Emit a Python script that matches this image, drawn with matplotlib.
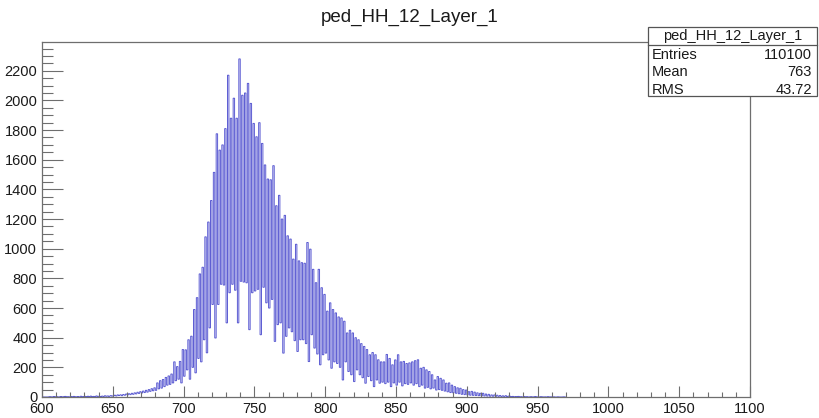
import numpy as np
import matplotlib.pyplot as plt
from matplotlib.patches import Rectangle
from matplotlib.lines import Line2D
from matplotlib.ticker import MultipleLocator

plt.rcParams['font.family'] = ['Liberation Sans', 'DejaVu Sans']

title = "ped_HH_12_Layer_1"
x_lo, x_hi = 600, 1100

# bin contents, 1 ADC count per bin, starting at 600
counts = [
    0, 0, 0, 0, 0, 2, 1, 0, 3, 1,                                  # 600
    2, 0, 1, 3, 0, 2, 4, 1, 2, 0,                                  # 610
    3, 1, 4, 2, 1, 3, 0, 5, 2, 3,                                  # 620
    4, 2, 5, 3, 6, 2, 4, 3, 7, 4,                                  # 630
    5, 3, 6, 4, 8, 5, 7, 4, 9, 6,                                  # 640
    8, 12, 7, 14, 10, 15, 9, 17, 12, 20,                           # 650
    14, 22, 16, 25, 18, 28, 21, 32, 24, 36,                        # 660
    27, 40, 30, 45, 33, 50, 38, 56, 42, 62,                        # 670
    45, 95, 55, 110, 60, 118, 70, 132, 80, 142,                    # 680
    85, 155, 95, 237, 110, 205, 120, 240, 95, 320,                 # 690
    140, 318, 183, 386, 120, 410, 200, 590, 163, 670,              # 700
    260, 830, 237, 875, 386, 1080, 298, 1180, 466, 1325,           # 710
    624, 1515, 398, 1775, 624, 1665, 760, 1700, 755, 1810,         # 720
    500, 2170, 703, 1880, 760, 2015, 720, 1880, 500, 2280,         # 730
    780, 2035, 775, 2050, 770, 2115, 454, 1980, 703, 1845,         # 740
    715, 1755, 726, 1850, 420, 1710, 740, 1565, 635, 1470,         # 750
    600, 1465, 658, 1560, 375, 1290, 488, 1360, 500, 1200,         # 760
    296, 1225, 409, 1087, 466, 1065, 440, 930, 380, 1030,          # 770
    307, 918, 386, 906, 386, 902, 360, 1042, 239, 997,             # 780
    420, 861, 330, 771, 290, 861, 217, 737, 285, 692,              # 790
    296, 579, 250, 635, 194, 590, 237, 567, 226, 540,              # 800
    200, 533, 115, 511, 237, 432, 172, 450, 150, 432,              # 810
    104, 400, 183, 386, 150, 360, 130, 341, 93, 320,               # 820
    138, 285, 110, 300, 70, 285, 115, 251, 93, 237,                # 830
    100, 237, 90, 287, 100, 260, 70, 217, 95, 250,                 # 840
    80, 285, 100, 237, 75, 240, 90, 226, 85, 230,                  # 850
    95, 237, 80, 245, 90, 251, 70, 194, 80, 200,                   # 860
    60, 183, 65, 172, 55, 150, 60, 115, 47, 138,                   # 870
    50, 126, 45, 115, 40, 93, 35, 95, 30, 80,                      # 880
    28, 70, 25, 62, 22, 59, 18, 50, 16, 47,                        # 890
    14, 36, 12, 38, 11, 33, 10, 28, 9, 25,                         # 900
    8, 25, 7, 20, 6, 18, 5, 14, 5, 14,                             # 910
    4, 12, 4, 10, 3, 8, 3, 9, 2, 6,                                # 920
    5, 2, 4, 1, 3, 2, 4, 1, 2, 0,                                  # 930
    3, 1, 2, 0, 1, 2, 0, 1, 3, 0,                                  # 940
    1, 0, 2, 1, 0, 1, 0, 2, 0, 1,                                  # 950
    0, 1, 0, 0, 1, 0, 0, 0, 1, 0,                                  # 960
]
edges = np.arange(x_lo, x_lo + len(counts) + 1)

stat_names = ["Entries", "Mean", "RMS"]
stat_values = ["110100", "763", "43.72"]

W, H = 820, 418
fig = plt.figure(figsize=(W / 100, H / 100), dpi=100)
ax = fig.add_axes([42 / W, 21 / H, 708 / W, 355 / H])

ax.stairs(counts, edges, color='#5a5ad2', linewidth=0.7, snap=False)

ax.set_xlim(x_lo, x_hi)
ax.set_ylim(0, max(counts) * 1.05)

ax.xaxis.set_major_locator(MultipleLocator(50))
ax.xaxis.set_minor_locator(MultipleLocator(10))
ax.yaxis.set_major_locator(MultipleLocator(200))
ax.yaxis.set_minor_locator(MultipleLocator(50))

frame_col = '#6e6e6e'
for s in ax.spines.values():
    s.set_color(frame_col)
    s.set_linewidth(0.9)
ax.tick_params(axis='both', which='both', direction='in', color=frame_col,
               width=0.8, labelsize=10.5, labelcolor='#1a1a1a',
               top=False, right=False)
ax.tick_params(axis='x', which='major', length=7.6, pad=3.5)
ax.tick_params(axis='x', which='minor', length=3.8)
ax.tick_params(axis='y', which='major', length=15.3, pad=3.5)
ax.tick_params(axis='y', which='minor', length=7.6)

fig.text(0.5, 1 - 17 / H, title, ha='center', va='center', fontsize=13.5,
         color='#1a1a1a')

# stats box
bx0, bx1, by0, by1 = 648, 817, 27, 96
fig.add_artist(Rectangle((bx0 / W, 1 - by1 / H), (bx1 - bx0) / W, (by1 - by0) / H,
                         transform=fig.transFigure, facecolor='white',
                         edgecolor='#555555', linewidth=0.9))
fig.add_artist(Line2D([bx0 / W, bx1 / W], [1 - 45 / H, 1 - 45 / H],
                      transform=fig.transFigure, color='#555555', linewidth=0.9))
fig.text((bx0 + bx1) / 2 / W, 1 - 36 / H, title, ha='center', va='center',
         fontsize=10.5, color='#1a1a1a')
for i, (nm, val) in enumerate(zip(stat_names, stat_values)):
    yy = 1 - (55 + 17.5 * i) / H
    fig.text(652 / W, yy, nm, ha='left', va='center', fontsize=10.5, color='#1a1a1a')
    fig.text(812 / W, yy, val, ha='right', va='center', fontsize=10.5, color='#1a1a1a')

fig.savefig('out.png', dpi=100)
